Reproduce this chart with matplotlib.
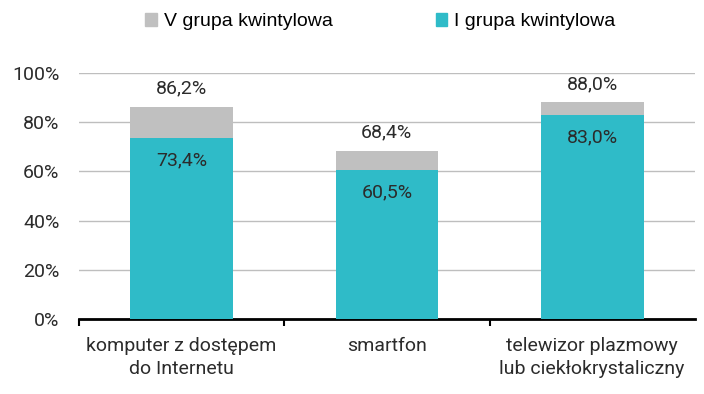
import numpy as np
import matplotlib
matplotlib.use("Agg")
import matplotlib.pyplot as plt
from matplotlib.patches import Patch

plt.rcParams['font.family'] = ['Roboto', 'DejaVu Sans']

# dane
categories = ["komputer z dostępem\ndo Internetu", "smartfon",
              "telewizor plazmowy\nlub ciekłokrystaliczny"]
grupa_v = [86.2, 68.4, 88.0]
grupa_i = [73.4, 60.5, 83.0]
series_names = ["V grupa kwintylowa", "I grupa kwintylowa"]

col_v = "#C0C0C0"
col_i = "#2FBBC8"
txt = "#2B2B2B"
fs = 14


def fmt(v):
    return f"{v:.1f}".replace(".", ",") + "%"


fig = plt.figure(figsize=(7.04, 3.94), dpi=100)
ax = fig.add_axes([0.112, 0.19, 0.875, 0.625])

x = np.arange(len(categories))
w = 0.5
ax.bar(x, grupa_v, width=w, color=col_v, zorder=2)
ax.bar(x, grupa_i, width=w, color=col_i, zorder=3)

for xi, v, i in zip(x, grupa_v, grupa_i):
    ax.annotate(fmt(v), (xi, v), xytext=(0, 13), textcoords="offset points",
                ha="center", va="center", fontsize=fs, color=txt)
    ax.annotate(fmt(i), (xi, i), xytext=(0, -16), textcoords="offset points",
                ha="center", va="center", fontsize=fs, color=txt, zorder=4)

ax.set_xlim(-0.5, 2.5)
ax.set_ylim(0, 100)
ax.set_yticks(np.arange(0, 101, 20))
ax.set_yticklabels([f"{t}%" for t in range(0, 101, 20)])
ax.yaxis.grid(True, color="#BEBEBE", linewidth=1, zorder=0)
ax.set_axisbelow(True)

ax.set_xticks(x)
ax.set_xticklabels(categories, fontsize=fs, color=txt, linespacing=1.35)
ax.set_xticks([-0.5, 0.5, 1.5], minor=True)
ax.tick_params(axis="x", which="major", length=0, pad=13)
ax.tick_params(axis="x", which="minor", length=5, width=1.5, color="black")
ax.tick_params(axis="y", length=0, labelsize=fs, labelcolor=txt, pad=14)

for s in ["left", "right", "top"]:
    ax.spines[s].set_visible(False)
ax.spines["bottom"].set_linewidth(2)
ax.spines["bottom"].set_color("black")

handles = [Patch(color=col_v), Patch(color=col_i)]
fig.legend(handles, series_names, loc="center", bbox_to_anchor=(0.54, 0.945),
           ncol=2, frameon=False, prop={"family": "Liberation Sans", "size": 14},
           handlelength=0.6, handleheight=0.6, handletextpad=0.35,
           columnspacing=5.3)

fig.savefig("out.png", dpi=100, facecolor="white")
